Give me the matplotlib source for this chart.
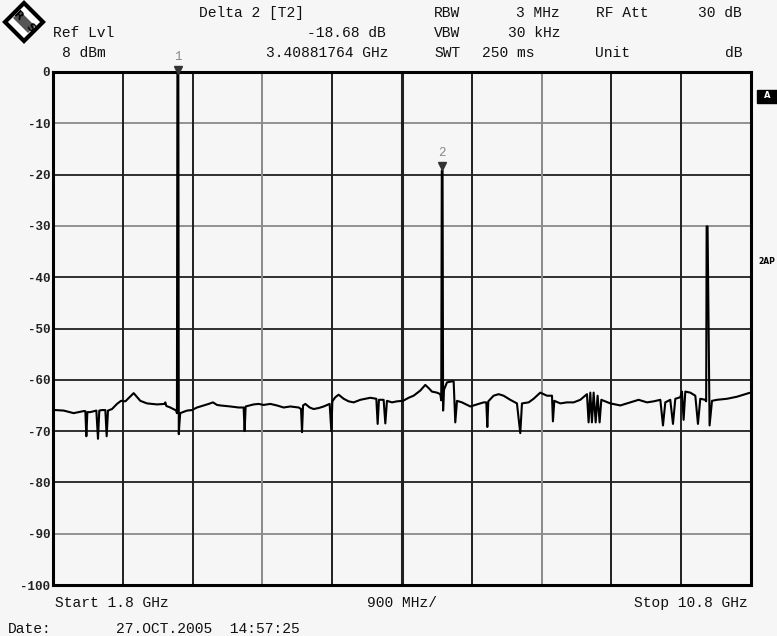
import numpy as np
import matplotlib
matplotlib.use("Agg")
import matplotlib.pyplot as plt
from matplotlib.patches import Polygon, Rectangle


W, H = 777, 636
BG = "#f6f6f6"
FONT = "Liberation Mono"

# spectrum trace, frequency in GHz, level in dB
freq_ghz = [
    1.800, 1.830, 1.938, 2.066, 2.195, 2.217, 2.230, 2.243, 2.281, 2.359,
    2.380, 2.397, 2.432, 2.475, 2.492, 2.509, 2.561, 2.625, 2.677, 2.733,
    2.840, 2.926, 3.012, 3.141, 3.240, 3.248, 3.261, 3.313, 3.390, 3.398,
    3.404, 3.416, 3.422, 3.428, 3.440, 3.528, 3.592, 3.657, 3.743, 3.807,
    3.863, 3.915, 3.958, 4.087, 4.194, 4.258, 4.271, 4.284, 4.387, 4.452,
    4.516, 4.602, 4.688, 4.774, 4.860, 4.968, 4.998, 5.011, 5.024, 5.054,
    5.110, 5.161, 5.226, 5.290, 5.367, 5.389, 5.402, 5.440, 5.483, 5.548,
    5.612, 5.677, 5.763, 5.827, 5.892, 5.969, 5.986, 6.003, 6.063, 6.085,
    6.106, 6.171, 6.235, 6.313, 6.386, 6.450, 6.536, 6.600, 6.643, 6.686,
    6.751, 6.794, 6.806, 6.813, 6.823, 6.830, 6.840, 6.880, 6.944, 6.966,
    6.987, 7.009, 7.073, 7.181, 7.267, 7.352, 7.387, 7.400, 7.413, 7.481,
    7.546, 7.610, 7.696, 7.782, 7.825, 7.847, 7.933, 7.997, 8.083, 8.169,
    8.234, 8.246, 8.264, 8.341, 8.427, 8.513, 8.599, 8.685, 8.706, 8.728,
    8.749, 8.771, 8.797, 8.822, 8.848, 8.870, 8.986, 9.115, 9.244, 9.351,
    9.459, 9.545, 9.631, 9.665, 9.695, 9.759, 9.794, 9.824, 9.888, 9.910,
    9.931, 9.953, 10.017, 10.082, 10.116, 10.146, 10.210, 10.222, 10.228,
    10.240, 10.266, 10.297, 10.361, 10.490, 10.619, 10.705, 10.769, 10.800,
]
level_db = [
    -65.9, -65.9, -66.0, -66.5, -66.1, -66.1, -71.0, -66.3, -66.3, -66.0,
    -71.5, -66.0, -65.9, -65.9, -71.0, -66.0, -65.7, -64.7, -64.1, -64.2,
    -62.6, -64.1, -64.6, -64.8, -64.7, -64.4, -65.1, -65.4, -66.0, -66.5,
    -0.4, -0.4, -70.6, -69.0, -66.5, -66.0, -65.9, -65.4, -65.0, -64.7,
    -64.4, -64.9, -65.0, -65.2, -65.4, -65.4, -70.0, -65.2, -64.8, -64.7,
    -64.9, -64.7, -65.0, -65.4, -65.2, -65.4, -65.7, -70.2, -65.0, -64.7,
    -65.4, -65.7, -65.5, -65.2, -64.7, -70.0, -64.2, -63.4, -62.9, -63.7,
    -64.2, -64.4, -63.9, -63.7, -63.5, -63.7, -68.6, -63.9, -63.9, -68.5,
    -64.1, -64.4, -64.2, -64.1, -63.5, -63.1, -62.1, -61.0, -61.6, -62.3,
    -62.5, -62.8, -64.0, -19.2, -19.2, -66.0, -62.0, -60.5, -60.3, -60.3,
    -68.3, -64.1, -64.4, -65.2, -64.8, -64.4, -64.4, -69.2, -64.2, -63.1,
    -62.8, -63.1, -63.9, -64.6, -70.4, -64.6, -64.4, -63.7, -62.5, -63.1,
    -63.1, -68.1, -64.1, -64.6, -64.4, -64.4, -63.9, -62.8, -68.3, -62.5,
    -68.3, -62.5, -68.3, -63.1, -68.3, -63.9, -64.6, -65.0, -64.4, -63.9,
    -64.4, -64.2, -63.9, -68.9, -64.4, -63.9, -68.6, -63.7, -63.4, -62.3,
    -67.8, -62.3, -62.5, -63.1, -68.6, -63.7, -63.9, -64.2, -30.1,
    -30.1, -68.9, -64.1, -63.9, -63.7, -63.3, -62.9, -62.6, -62.5,
]

# markers
marker_freq = [3.410, 6.818]
marker_level = [-0.4, -19.2]
marker_name = ["1", "2"]

y_ticks = [0, -10, -20, -30, -40, -50, -60, -70, -80, -90, -100]
x_grid = [1.8 + 0.9 * i for i in range(11)]

header_left = [
    ("Delta 2 [T2]", 199, 13, "left"),
    ("Ref Lvl", 53, 33, "left"),
    ("-18.68 dB", 386, 33, "right"),
    ("8 dBm", 62, 53, "left"),
    ("3.40881764 GHz", 388, 53, "right"),
    ("RBW", 434, 13, "left"),
    ("3 MHz", 560, 13, "right"),
    ("RF Att", 596, 13, "left"),
    ("30 dB", 742, 13, "right"),
    ("VBW", 434, 33, "left"),
    ("30 kHz", 560, 33, "right"),
    ("SWT", 434, 53, "left"),
    ("250 ms", 482, 53, "left"),
    ("Unit", 595, 53, "left"),
    ("dB", 742, 53, "right"),
    ("Start 1.8 GHz", 55, 603, "left"),
    ("900 MHz/", 402, 603, "center"),
    ("Stop 10.8 GHz", 748, 603, "right"),
    ("Date:", 8, 629, "left"),
    ("27.OCT.2005  14:57:25", 116, 629, "left"),
]


def fx(px):
    return px / W


def fy(py):
    return 1 - py / H


def draw_grid(ax):
    light_h = [-10, -30, -90]
    for v in y_ticks[1:-1]:
        col = "#8a8a8a" if v in light_h else "#202020"
        ax.axhline(v, color=col, lw=1.3, zorder=1)
    for i, f in enumerate(x_grid[1:-1], start=1):
        col = "#8a8a8a" if i in (3, 7) else "#202020"
        lw = 2.2 if i == 5 else 1.4
        ax.axvline(f, color=col, lw=lw, zorder=1)


def draw_logo(fig):
    cx, cy, r = 24, 22, 19
    pts = [(fx(cx), fy(cy - r)), (fx(cx + r), fy(cy)),
           (fx(cx), fy(cy + r)), (fx(cx - r), fy(cy))]
    fig.patches.append(Polygon(pts, closed=True, transform=fig.transFigure,
                               facecolor="white", edgecolor="black", lw=3))
    stripe = [(fx(cx - 4), fy(cy - 11)), (fx(cx + 11), fy(cy + 4)),
              (fx(cx + 4), fy(cy + 11)), (fx(cx - 11), fy(cy - 4))]
    fig.patches.append(Polygon(stripe, closed=True, transform=fig.transFigure,
                               facecolor="#555555", edgecolor="none"))
    fig.text(fx(cx - 6), fy(cy - 6), "R", fontsize=8, fontweight="bold",
             rotation=-45, ha="center", va="center", family="DejaVu Sans")
    fig.text(fx(cx + 6), fy(cy + 6), "S", fontsize=8, fontweight="bold",
             rotation=-45, ha="center", va="center", family="DejaVu Sans")


def main():
    fig = plt.figure(figsize=(W / 100, H / 100), dpi=100, facecolor=BG)
    ax = fig.add_axes([fx(53), fy(585), fx(751) - fx(53), fy(72) - fy(585)])
    ax.set_facecolor(BG)
    ax.set_xlim(1.8, 10.8)
    ax.set_ylim(-100, 0)

    draw_grid(ax)
    ax.plot(freq_ghz, level_db, color="black", lw=1.5, zorder=3)

    for f, lvl, name in zip(marker_freq, marker_level, marker_name):
        ax.plot(f, lvl + 0.8, marker="v", color="#333333", ms=6,
                clip_on=False, zorder=4)
        ax.text(f, lvl + 2.2, name, color="#888888", fontsize=9,
                ha="center", va="bottom", family=FONT, clip_on=False)

    ax.set_xticks([])
    ax.set_yticks(y_ticks)
    ax.set_yticklabels([str(v) for v in y_ticks], family=FONT, fontsize=9,
                       fontweight="bold", color="#222222")
    ax.tick_params(axis="y", length=0, pad=2)
    for s in ax.spines.values():
        s.set_linewidth(2.2)
        s.set_color("black")

    for txt, x, y, ha in header_left:
        fig.text(fx(x), fy(y), txt, family=FONT, fontsize=10.5,
                 ha=ha, va="center", color="#111111")

    draw_logo(fig)

    # side labels on the right edge
    fig.patches.append(Rectangle((fx(757), fy(103)), fx(20), fy(90) - fy(103),
                                 transform=fig.transFigure, color="black"))
    fig.text(fx(767), fy(96), "A", color="white", fontsize=6,
             fontweight="bold", ha="center", va="center", family="DejaVu Sans")
    fig.text(fx(758), fy(261), "2AP", fontsize=5.5, fontweight="bold",
             ha="left", va="center", family="DejaVu Sans")

    fig.savefig("out.png", dpi=100, facecolor=BG)


if __name__ == '__main__':
    main()
